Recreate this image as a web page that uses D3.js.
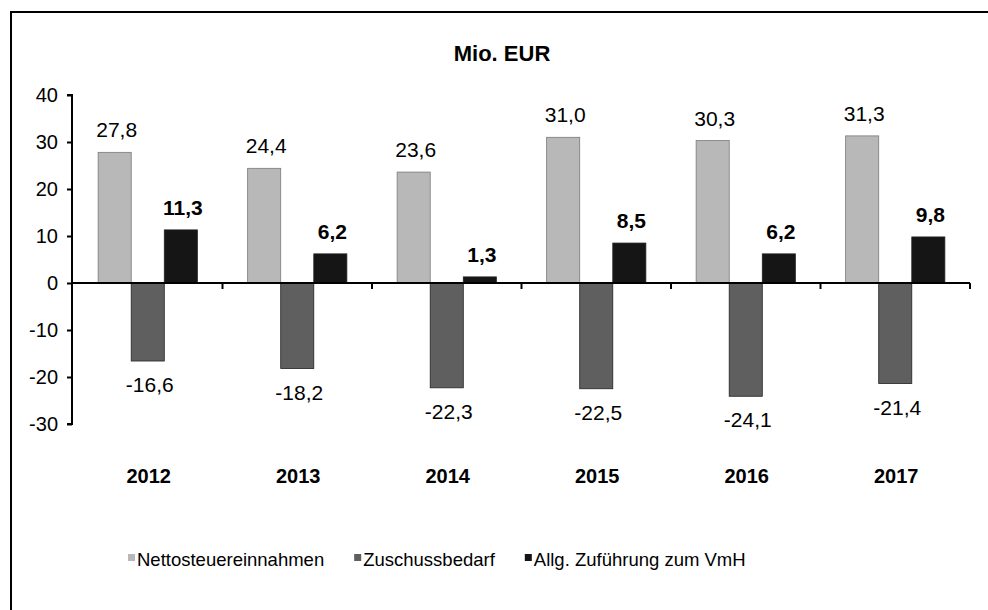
<!DOCTYPE html>
<html>
<head>
<meta charset="utf-8">
<script src="https://cdn.jsdelivr.net/npm/d3@7"></script>
<style>
  html, body { margin: 0; padding: 0; background: #fff; }
  svg { display: block; font-family: "Liberation Sans", Arial, sans-serif; }
</style>
</head>
<body>
<svg id="chart" width="988" height="610"></svg>
<script>
// values (Mio. EUR)
var years = ['2012', '2013', '2014', '2015', '2016', '2017'];
var seriesNames = ['Nettosteuereinnahmen', 'Zuschussbedarf', 'Allg. Zuführung zum VmH'];
var netto = [27.8, 24.4, 23.6, 31.0, 30.3, 31.3];
var zuschuss = [-16.6, -18.2, -22.3, -22.5, -24.1, -21.4];
var zufuehrung = [11.3, 6.2, 1.3, 8.5, 6.2, 9.8];
var yTicks = [-30, -20, -10, 0, 10, 20, 30, 40];
var title = 'Mio. EUR';

var seriesValues = [netto, zuschuss, zufuehrung];
var fills = ['#b8b8b8', '#5f5f5f', '#151515'];
var boldLabel = [false, false, true];

var de = d3.formatLocale({decimal: ',', thousands: '.', grouping: [3], currency: ['', ' €'], minus: '-'});
var fmt = de.format('.1f');

var svg = d3.select('#chart');

// outer frame, runs off the right and bottom like the scan
svg.append('rect')
  .attr('x', 11).attr('y', 12)
  .attr('width', 1000).attr('height', 700)
  .attr('fill', 'none')
  .attr('stroke', '#000')
  .attr('stroke-width', 2);

var x0 = d3.scaleBand().domain(years).range([73, 970]).padding(0);
var x1 = d3.scaleBand().domain(seriesNames).range([0, x0.bandwidth()])
  .paddingInner(0).paddingOuter(0.76);
var y = d3.scaleLinear().domain([-30, 40]).range([424, 95]);

svg.append('text')
  .attr('x', 502).attr('y', 61)
  .attr('text-anchor', 'middle')
  .attr('font-size', 22).attr('font-weight', 'bold')
  .text(title);

// bars
var rows = [];
years.forEach(function (yr, i) {
  seriesNames.forEach(function (s, j) {
    rows.push({year: yr, series: s, j: j, value: seriesValues[j][i]});
  });
});

var g = svg.append('g');
g.selectAll('rect.bar')
  .data(rows)
  .enter().append('rect')
  .attr('class', 'bar')
  .attr('x', function (d) { return x0(d.year) + x1(d.series); })
  .attr('width', x1.bandwidth())
  .attr('y', function (d) { return y(Math.max(0, d.value)); })
  .attr('height', function (d) { return Math.abs(y(d.value) - y(0)); })
  .attr('fill', function (d) { return fills[d.j]; })
  .attr('stroke', function (d) { return d.j === 0 ? '#7a7a7a' : '#222'; })
  .attr('stroke-width', 0.8);

g.selectAll('text.val')
  .data(rows)
  .enter().append('text')
  .attr('class', 'val')
  .attr('x', function (d) { return x0(d.year) + x1(d.series) + x1.bandwidth() / 2 + 2; })
  .attr('y', function (d) { return d.value >= 0 ? y(d.value) - 15 : y(d.value) + 31; })
  .attr('text-anchor', 'middle')
  .attr('font-size', 21)
  .attr('font-weight', function (d) { return boldLabel[d.j] ? 'bold' : 'normal'; })
  .text(function (d) { return fmt(d.value); });

// y axis
var yAxis = svg.append('g').attr('transform', 'translate(72,0)')
  .call(d3.axisLeft(y).tickValues(yTicks).tickSize(5).tickPadding(9)
    .tickFormat(de.format('d')));
yAxis.select('.domain').attr('stroke-width', 2).attr('d', 'M-5,' + y(40) + 'H0V' + y(-30) + 'H-5');
yAxis.selectAll('.tick line').attr('stroke-width', 2);
yAxis.selectAll('.tick text')
  .attr('font-size', 20)
  .attr('font-family', '"Liberation Sans", Arial, sans-serif')
  .attr('fill', '#000');

// x axis at zero, ticks at category boundaries
var xAxisG = svg.append('g');
xAxisG.append('line')
  .attr('x1', 72).attr('x2', x0.range()[1])
  .attr('y1', y(0)).attr('y2', y(0))
  .attr('stroke', '#000').attr('stroke-width', 2);
var bounds = years.slice(1).map(function (yr) { return x0(yr); }).concat([x0.range()[1]]);
xAxisG.selectAll('line.tk')
  .data(bounds)
  .enter().append('line')
  .attr('class', 'tk')
  .attr('x1', function (d) { return d; }).attr('x2', function (d) { return d; })
  .attr('y1', y(0)).attr('y2', y(0) + 6)
  .attr('stroke', '#000').attr('stroke-width', 2);

svg.selectAll('text.year')
  .data(years)
  .enter().append('text')
  .attr('class', 'year')
  .attr('x', function (d) { return x0(d) + x0.bandwidth() / 2 + 1; })
  .attr('y', 483)
  .attr('text-anchor', 'middle')
  .attr('font-size', 20).attr('font-weight', 'bold')
  .text(function (d) { return d; });

// legend
var legend = svg.append('g');
var lx = 128;
seriesNames.forEach(function (name, j) {
  legend.append('rect')
    .attr('x', lx).attr('y', 554)
    .attr('width', 7).attr('height', 7)
    .attr('fill', fills[j]);
  var t = legend.append('text')
    .attr('x', lx + 9).attr('y', 566)
    .attr('font-size', 18.5)
    .text(name);
  lx = lx + 9 + t.node().getComputedTextLength() + 30;
});
</script>
</body>
</html>
